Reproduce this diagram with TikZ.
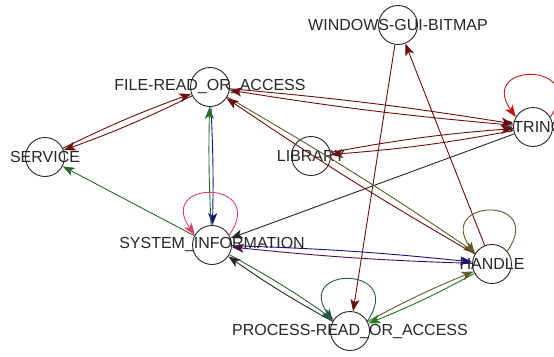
\documentclass[tikz,border=0pt]{standalone}
\usepackage{fontspec}
\newfontfamily\lblfont{Liberation Sans}
\usepackage{xcolor}
\usetikzlibrary{arrows.meta}

\definecolor{dred}{HTML}{6A0E0E}
\definecolor{rred}{HTML}{C01818}
\definecolor{dgreen}{HTML}{2C6A2C}
\definecolor{lgreen}{HTML}{1E7A1E}
\definecolor{navyc}{HTML}{14147A}
\definecolor{olivec}{HTML}{5C5C28}
\definecolor{purplec}{HTML}{4A0C4A}
\definecolor{pinkc}{HTML}{D8406E}
\definecolor{tealc}{HTML}{245858}

\begin{document}
\begin{tikzpicture}[
  x=1pt, y=1pt,
  vert/.style={circle, draw=black!85, line width=0.9pt, fill=white,
               minimum size=39pt, inner sep=0pt},
  lbl/.style={font=\lblfont\fontsize{16}{16}\selectfont, text=black!85, inner sep=0pt},
  arr/.style={-{Stealth[length=12pt, width=9pt, inset=3pt]}, line width=0.9pt},
]
\useasboundingbox (0,0) rectangle (554,-356);

% nodes
\node[vert, label={[lbl]center:WINDOWS-GUI-BITMAP}]     (wgb) at (398,-25)  {};
\node[vert, label={[lbl]center:FILE-READ\_OR\_ACCESS}]   (fra) at (210,-87)  {};
\node[vert, label={[lbl]center:SERVICE}]                 (svc) at (45,-157)  {};
\node[vert, label={[lbl]center:LIBRARY}]                 (lib) at (311,-156) {};
\node[vert, label={[lbl]center:STRING}]                  (str) at (533,-127) {};
\node[vert, label={[lbl]center:SYSTEM\_INFORMATION}]     (si)  at (212,-245) {};
\node[vert, label={[lbl]center:HANDLE}]                  (hdl) at (492,-264) {};
\node[vert, label={[lbl]center:PROCESS-READ\_OR\_ACCESS}] (pra) at (350,-331) {};

% edges
\draw[arr, dred]   (fra) to[bend left=3] (svc);
\draw[arr, dred]   (svc) to[bend left=3] (fra);
\draw[arr, dgreen] (si) -- (svc);
\draw[arr, navyc]  (fra) to[bend left=2] (si);
\draw[arr, dgreen] (si) to[bend left=2] (fra);
\draw[arr, dred]   (str) to[bend left=2] (fra);
\draw[arr, dred]   (fra) to[bend left=2] (str);
\draw[arr, dred]   (str) to[bend left=3] (lib);
\draw[arr, dred]   (lib) to[bend left=3] (str);
\draw[arr, black!85] (str) -- (si);
\draw[arr, olivec] (fra) to[bend left=2] (hdl);
\draw[arr, dred]   (hdl) to[bend left=2] (fra);
\draw[arr, dred]   (hdl) -- (wgb);
\draw[arr, dred]   (wgb) -- (pra);
\draw[arr, navyc]  (si) to[bend left=2] (hdl);
\draw[arr, purplec] (hdl) to[bend left=2] (si);
\draw[arr, dgreen] (si) to[bend left=3] (pra);
\draw[arr, black!85] (pra) to[bend left=3] (si);
\draw[arr, lgreen] (hdl) to[bend left=3] (pra);
\draw[arr, olivec] (pra) to[bend left=3] (hdl);

% loops
\draw[arr, rred]   (str.30) .. controls +(55:68) and +(125:68) .. (str.150);
\draw[arr, pinkc]  (si.30)  .. controls +(55:68) and +(125:68) .. (si.150);
\draw[arr, olivec] (hdl.40) .. controls +(55:68) and +(125:68) .. (hdl.150);
\draw[arr, tealc]  (pra.30) .. controls +(55:68) and +(125:68) .. (pra.150);
\end{tikzpicture}
\end{document}
